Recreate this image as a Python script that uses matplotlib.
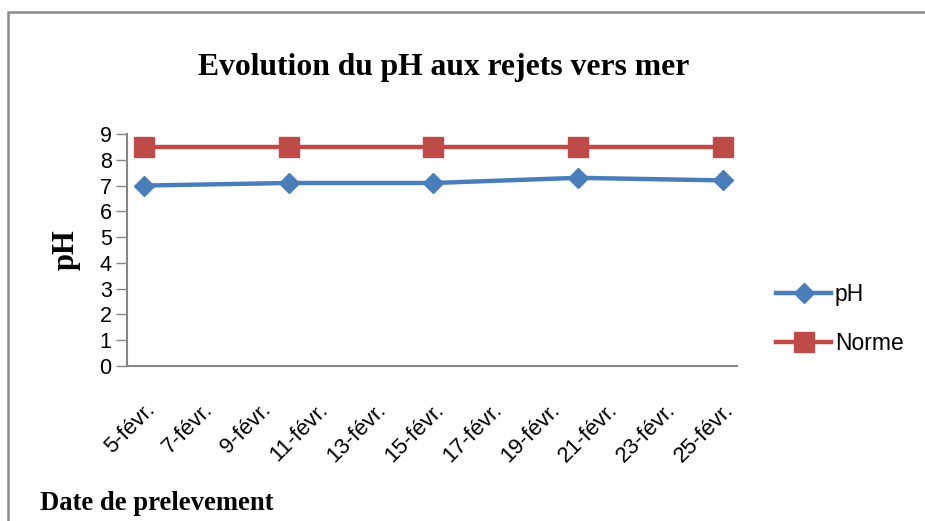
import matplotlib.pyplot as plt
from matplotlib.patches import Rectangle

# data
days = [5, 10, 15, 20, 25]
ph = [7.0, 7.1, 7.1, 7.3, 7.2]
norme = [8.5, 8.5, 8.5, 8.5, 8.5]
tick_days = [5, 7, 9, 11, 13, 15, 17, 19, 21, 23, 25]
tick_labels = ['5-févr.', '7-févr.', '9-févr.', '11-févr.', '13-févr.', '15-févr.',
               '17-févr.', '19-févr.', '21-févr.', '23-févr.', '25-févr.']

plt.rcParams['font.family'] = ['Liberation Sans', 'DejaVu Sans']
serif = ['Liberation Serif', 'DejaVu Serif']

fig = plt.figure(figsize=(9.25, 5.21), dpi=100)
ax = fig.add_axes([127 / 925, 155 / 521, 610 / 925, 232 / 521])

ax.plot(days, ph, color='#4A7EBB', lw=3.2, marker='D', ms=10.5, label='pH', zorder=3)
ax.plot(days, norme, color='#BE4B48', lw=3.2, marker='s', ms=14, label='Norme', zorder=3)

ax.set_xlim(4.4, 25.5)
ax.set_ylim(0, 9)
ax.set_yticks(range(10))
ax.set_xticks(tick_days)
ax.set_xticklabels(tick_labels, rotation=45, ha='right', va='top', rotation_mode='anchor')
ax.tick_params(axis='y', direction='out', length=8, width=1, color='#868686', labelsize=15.5, pad=3)
ax.tick_params(axis='x', length=0, labelsize=16, pad=24)

for s in ['top', 'right']:
    ax.spines[s].set_visible(False)
for s in ['left', 'bottom']:
    ax.spines[s].set_color('#868686')
    ax.spines[s].set_linewidth(1.5)

ax.set_ylabel('pH', family=serif, fontweight='bold', fontsize=22, labelpad=14)

fig.text(444 / 925, 1 - 67 / 521, 'Evolution du pH aux rejets vers mer', family=serif,
         fontweight='bold', fontsize=22.8, ha='center', va='center')
fig.text(40 / 925, 1 - 504 / 521, 'Date de prelevement', family=serif,
         fontweight='bold', fontsize=19.2, ha='left', va='center')

ax.legend(loc='center left', bbox_to_anchor=(765 / 925, 1 - 319 / 521),
          bbox_transform=fig.transFigure, frameon=False, fontsize=16.5,
          handlelength=2.4, handletextpad=0.15, labelspacing=1.15, borderpad=0)

# chart area border
fig.add_artist(Rectangle((8 / 925, -0.1), 1.2, 1.1 - 12 / 521, transform=fig.transFigure,
                         fill=False, edgecolor='#8C8C8C', lw=1.8))

fig.savefig('out.png', dpi=100)
